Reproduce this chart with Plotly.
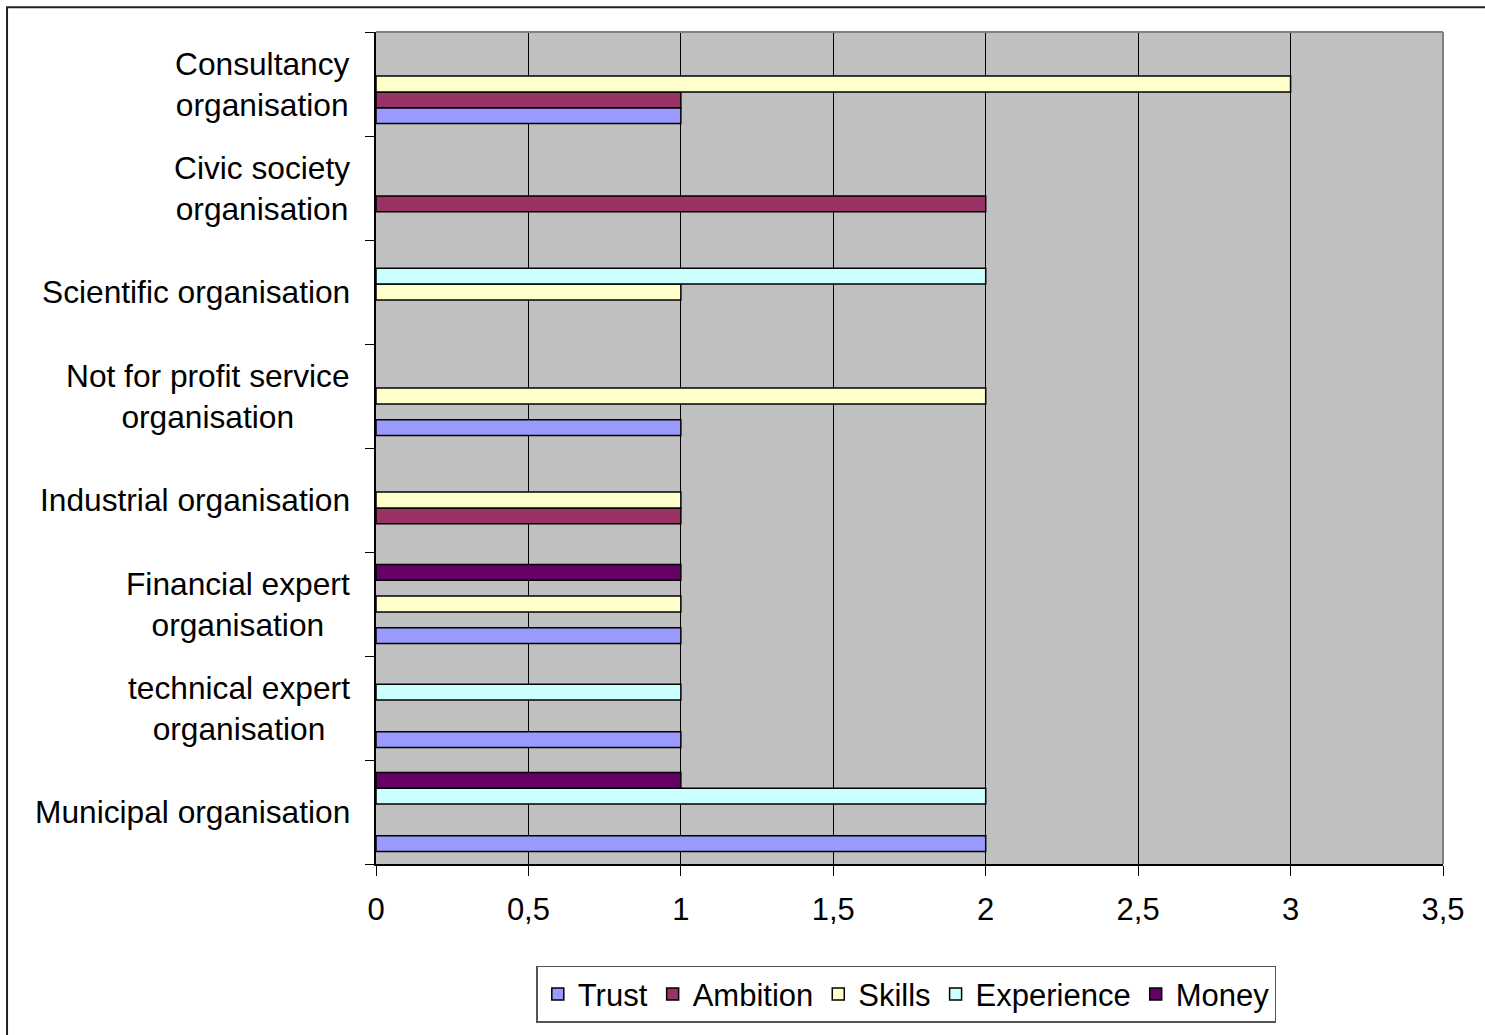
import plotly.graph_objects as go

# Organisation types, listed bottom to top as they appear on the category axis
categories = [
    "Municipal organisation",
    "technical expert organisation",
    "Financial expert organisation",
    "Industrial organisation",
    "Not for profit service organisation",
    "Scientific organisation",
    "Civic society organisation",
    "Consultancy organisation",
]
category_labels = [
    "Municipal organisation",
    "technical expert<br>organisation",
    "Financial expert<br>organisation",
    "Industrial organisation",
    "Not for profit service<br>organisation",
    "Scientific organisation",
    "Civic society<br>organisation",
    "Consultancy<br>organisation",
]

# Counts per motive (None = no mention)
trust      = [2, 1, 1, None, 1, None, None, 1]
ambition   = [None, None, None, 1, None, None, 2, 1]
skills     = [None, None, 1, 1, 2, 1, None, 3]
experience = [2, 1, None, None, None, 2, None, None]
money      = [1, None, 1, None, None, None, None, None]

series = [
    ("Trust", trust, "#9999FF"),
    ("Ambition", ambition, "#993366"),
    ("Skills", skills, "#FFFFCC"),
    ("Experience", experience, "#CCFFFF"),
    ("Money", money, "#660066"),
]

x_ticks = [0, 0.5, 1, 1.5, 2, 2.5, 3, 3.5]

FONT = "Liberation Sans, Arial, sans-serif"

fig = go.Figure()
for name, vals, color in series:
    fig.add_trace(go.Bar(
        name=name,
        y=categories,
        x=vals,
        orientation="h",
        marker=dict(color=color, line=dict(color="black", width=1.5)),
    ))

# Category labels, centred line by line and right-aligned next to the axis
for cat, lab in zip(categories, category_labels):
    fig.add_annotation(
        x=-0.0225, xref="paper", xanchor="right",
        y=cat, yref="y", yanchor="middle",
        text=lab, align="center", showarrow=False,
        font=dict(family=FONT, size=31.7, color="black"),
    )

# Gray frame on the top and right of the plot area
fig.add_shape(type="line", xref="paper", yref="paper", x0=0, x1=1, y0=1, y1=1,
              line=dict(color="#808080", width=2), layer="above")
fig.add_shape(type="line", xref="paper", yref="paper", x0=1, x1=1, y0=0, y1=1,
              line=dict(color="#808080", width=2), layer="above")
# Outer chart border (runs past the right and bottom edges of the page)
fig.add_shape(type="rect", xref="paper", yref="paper",
              x0=-0.3458, x1=1.1, y0=-0.3, y1=1.0298,
              line=dict(color="#222222", width=2), layer="below")

fig.update_layout(
    width=1485, height=1035,
    margin=dict(l=376, r=42, t=32, b=165),
    paper_bgcolor="white",
    plot_bgcolor="#C0C0C0",
    barmode="group",
    bargap=0.238,
    bargroupgap=0,
    separators=", ",
    font=dict(family=FONT, size=31, color="black"),
    showlegend=True,
    legend=dict(
        orientation="h",
        traceorder="normal",
        x=0.497, xanchor="center",
        y=-0.1909, yanchor="bottom",
        bordercolor="#555555", borderwidth=1.5,
        bgcolor="white",
        font=dict(family=FONT, size=31, color="black"),
        itemwidth=30,
    ),
    xaxis=dict(
        range=[0, 3.5],
        tickvals=x_ticks,
        automargin=False,
        showgrid=True, gridcolor="black", gridwidth=1,
        zeroline=False,
        showline=True, linecolor="black", linewidth=1.5,
        ticks="outside", ticklen=10, tickcolor="black", tickwidth=1,
        ticklabelstandoff=7,
        tickfont=dict(family=FONT, size=31, color="black"),
    ),
    yaxis=dict(
        categoryorder="array", categoryarray=categories,
        automargin=False,
        showticklabels=False,
        showgrid=False, zeroline=False,
        showline=True, linecolor="black", linewidth=1.5,
        ticks="outside", tickson="boundaries", ticklen=9,
        tickcolor="black", tickwidth=1,
    ),
)

fig.write_html("out.html")
